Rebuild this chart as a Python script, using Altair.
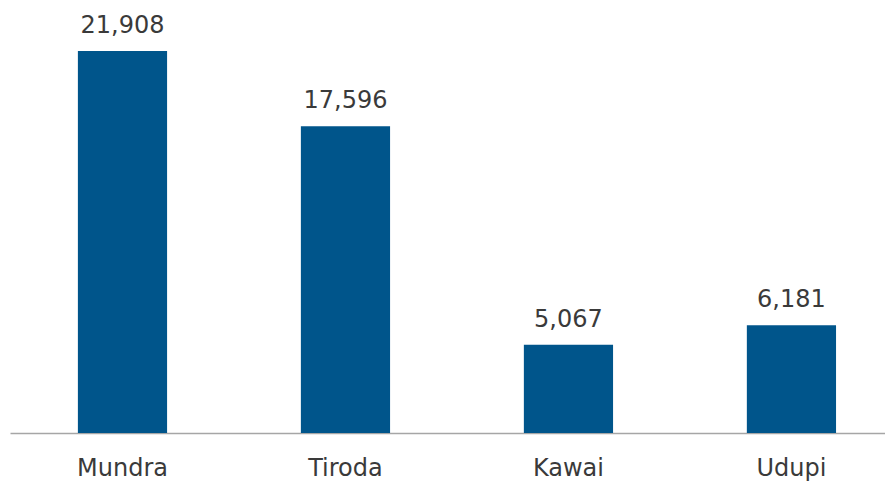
import altair as alt
import pandas as pd

categories = ["Mundra", "Tiroda", "Kawai", "Udupi"]
values = [21908, 17596, 5067, 6181]

df = pd.DataFrame({"plant": categories, "value": values})
FONT = "DejaVu Sans"

x = alt.X("plant:N", sort=categories, title=None,
          scale=alt.Scale(paddingInner=0.6, paddingOuter=0.262, align=0.581),
          axis=alt.Axis(labelAngle=0, ticks=False, tickSize=0, domainColor="#a6a6a6",
                        domainWidth=1.5, labelFontSize=24, labelColor="#3a3a3a",
                        labelFont=FONT, labelBaseline="alphabetic", labelPadding=42,
                        labelFontWeight="normal"))
y = alt.Y("value:Q", title=None, scale=alt.Scale(domain=[0, 24374], nice=False),
          axis=None)

bars = alt.Chart(df).mark_bar(color="#00558b").encode(x=x, y=y)
text = alt.Chart(df).mark_text(baseline="alphabetic", dy=-18, fontSize=24,
                               font=FONT, color="#3a3a3a").encode(
    x=alt.X("plant:N", sort=categories), y=y,
    text=alt.Text("value:Q", format=",")
)

chart = (bars + text).properties(
    width=875, height=425,
    padding={"left": 2, "top": 0, "right": 0, "bottom": 48},
    autosize=alt.AutoSizeParams(type="none"),
).configure_view(stroke=None)

chart.save("out.html", embed_options={"renderer": "svg", "actions": False})
